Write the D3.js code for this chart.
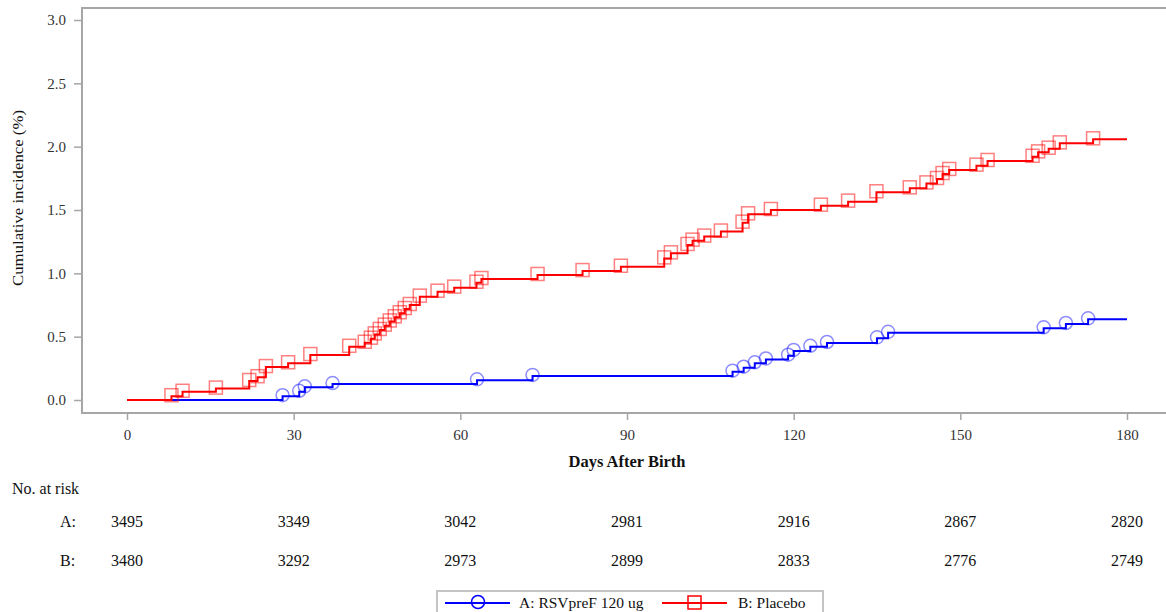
<!DOCTYPE html>
<html>
<head>
<meta charset="utf-8">
<script src="https://cdn.jsdelivr.net/npm/d3@7"></script>
<style>
  body { margin: 0; background: #fff; }
  svg { display: block; }
</style>
</head>
<body>
<svg width="1166" height="612"></svg>
<script>
(function (d3) {
  'use strict';

  // event days and cumulative incidence (%) after each event
  var groupATimes = [28, 31, 32, 37, 63, 73, 109, 111, 113, 115, 119, 120, 123, 126, 135, 137, 165, 169, 173];
  var groupAValues = [0.03, 0.065, 0.10, 0.126, 0.155, 0.19, 0.224, 0.255, 0.29, 0.32, 0.35, 0.387, 0.42, 0.45, 0.487, 0.53, 0.566, 0.60, 0.637];

  var groupBTimes = [8, 10, 16, 22, 23.5, 25, 29, 33, 40, 42.8, 43.9, 44.6, 45.5, 46.4, 47.3, 48.2, 49.1, 50, 50.9, 52.7, 55.9, 58.9, 62.9, 63.8, 73.9,
    82, 88.9, 96.7, 97.9, 100.9, 101.8, 103.9, 106.9, 110.8, 111.8, 115.9, 124.9, 129.8, 134.9, 140.9, 143.9, 145.8, 146.8, 148,
    152.9, 154.9, 163, 164, 165.9, 167.9, 173.9];
  var groupBValues = [0.03, 0.065, 0.09, 0.15, 0.18, 0.26, 0.29, 0.355, 0.42, 0.452, 0.484, 0.518, 0.553, 0.587, 0.62, 0.653, 0.685, 0.718, 0.75, 0.816, 0.855, 0.887, 0.926, 0.955, 0.987,
    1.018, 1.052, 1.118, 1.158, 1.224, 1.258, 1.29, 1.33, 1.40, 1.466, 1.50, 1.534, 1.566, 1.64, 1.671, 1.71, 1.745, 1.784, 1.816,
    1.85, 1.887, 1.92, 1.955, 1.984, 2.026, 2.058];

  var endDay = 180;
  var xTicks = [0, 30, 60, 90, 120, 150, 180];
  var yTicks = [0, 0.5, 1, 1.5, 2, 2.5, 3];
  var riskA = [3495, 3349, 3042, 2981, 2916, 2867, 2820];
  var riskB = [3480, 3292, 2973, 2899, 2833, 2776, 2749];
  var legendA = "A: RSVpreF 120 ug";
  var legendB = "B: Placebo";

  var serif = "'Liberation Serif', 'Times New Roman', Times, serif";
  var svg = d3.select("svg").attr("font-family", serif);
  var frameLeft = 82, frameTop = 8, frameBottom = 413, frameRight = 1166;
  var axisGrey = "#a6a6a6";

  var xScale = d3.scaleLinear().domain([0, 180]).range([127, 1127]);
  var yScale = d3.scaleLinear().domain([0, 3]).range([400, 20]);

  // frame (left, top, bottom)
  svg.append("path")
    .attr("d", "M" + frameRight + "," + frameTop + "H" + frameLeft + "V" + frameBottom + "H" + frameRight)
    .attr("fill", "none")
    .attr("stroke", axisGrey)
    .attr("stroke-width", 2);

  var yAxis = d3.axisLeft(yScale)
    .tickValues(yTicks)
    .tickFormat(d3.format(".1f"))
    .tickSize(8)
    .tickPadding(8);

  var yg = svg.append("g")
    .attr("transform", "translate(" + frameLeft + ",0)")
    .call(yAxis)
    .attr("font-family", serif)
    .attr("font-size", 15);
  yg.select(".domain").remove();
  yg.selectAll(".tick line").attr("stroke", axisGrey).attr("stroke-width", 1.5);
  yg.selectAll(".tick text").attr("fill", "#333");

  var xAxis = d3.axisBottom(xScale)
    .tickValues(xTicks)
    .tickSize(7)
    .tickPadding(9);

  var xg = svg.append("g")
    .attr("transform", "translate(0," + frameBottom + ")")
    .call(xAxis)
    .attr("font-family", serif)
    .attr("font-size", 15);
  xg.select(".domain").remove();
  xg.selectAll(".tick line").attr("stroke", axisGrey).attr("stroke-width", 1.5);
  xg.selectAll(".tick text").attr("fill", "#333");

  // axis titles
  svg.append("text")
    .attr("transform", "translate(23,198) rotate(-90)")
    .attr("text-anchor", "middle")
    .attr("font-size", 14)
    .attr("textLength", 176)
    .attr("lengthAdjust", "spacingAndGlyphs")
    .attr("fill", "#111")
    .text("Cumulative incidence (%)");

  svg.append("text")
    .attr("x", 627)
    .attr("y", 467)
    .attr("text-anchor", "middle")
    .attr("font-size", 16.5)
    .attr("font-weight", "bold")
    .attr("fill", "#111")
    .text("Days After Birth");

  // curves
  var line = d3.line()
    .x(function (d) { return xScale(d.t); })
    .y(function (d) { return yScale(d.v); })
    .curve(d3.curveStepAfter);

  function toPoints(times, values) {
    var pts = [{ t: 0, v: 0 }];
    times.forEach(function (t, i) { pts.push({ t: t, v: values[i] }); });
    pts.push({ t: endDay, v: values[values.length - 1] });
    return pts;
  }

  var seriesA = toPoints(groupATimes, groupAValues);
  var seriesB = toPoints(groupBTimes, groupBValues);

  svg.append("path")
    .datum(seriesA)
    .attr("d", line)
    .attr("fill", "none")
    .attr("stroke", "#0000ff")
    .attr("stroke-width", 2);

  svg.append("path")
    .datum(seriesB)
    .attr("d", line)
    .attr("fill", "none")
    .attr("stroke", "#ff0000")
    .attr("stroke-width", 2);

  svg.selectAll("circle.markA")
    .data(groupATimes)
    .enter()
    .append("circle")
    .attr("class", "markA")
    .attr("cx", function (d) { return xScale(d); })
    .attr("cy", function (d, i) { return yScale(groupAValues[i]) - 1; })
    .attr("r", 6.5)
    .attr("fill", "none")
    .attr("stroke", "#0000ff")
    .attr("stroke-opacity", 0.45)
    .attr("stroke-width", 1.5);

  svg.selectAll("rect.markB")
    .data(groupBTimes)
    .enter()
    .append("rect")
    .attr("class", "markB")
    .attr("x", function (d) { return xScale(d) - 6.5; })
    .attr("y", function (d, i) { return yScale(groupBValues[i]) - 7.5; })
    .attr("width", 13)
    .attr("height", 13)
    .attr("fill", "none")
    .attr("stroke", "#ff0000")
    .attr("stroke-opacity", 0.5)
    .attr("stroke-width", 1.5);

  // number at risk table
  svg.append("text")
    .attr("x", 12)
    .attr("y", 494)
    .attr("font-size", 16)
    .attr("fill", "#111")
    .text("No. at risk");

  var rows = [{ label: "A:", counts: riskA, y: 527 }, { label: "B:", counts: riskB, y: 566 }];
  rows.forEach(function (row) {
    svg.append("text")
      .attr("x", 60)
      .attr("y", row.y)
      .attr("font-size", 16)
      .attr("fill", "#111")
      .text(row.label);
    svg.selectAll(null)
      .data(row.counts)
      .enter()
      .append("text")
      .attr("x", function (d, i) { return xScale(xTicks[i]); })
      .attr("y", row.y)
      .attr("text-anchor", "middle")
      .attr("font-size", 16)
      .attr("fill", "#111")
      .text(function (d) { return d; });
  });

  // legend
  var lg = svg.append("g");
  lg.append("rect")
    .attr("x", 437)
    .attr("y", 591)
    .attr("width", 386)
    .attr("height", 26)
    .attr("fill", "#fff")
    .attr("stroke", "#c4c4c4")
    .attr("stroke-width", 2);

  lg.append("line")
    .attr("x1", 445).attr("x2", 510).attr("y1", 603).attr("y2", 603)
    .attr("stroke", "#0000ff").attr("stroke-width", 2);
  lg.append("circle")
    .attr("cx", 478).attr("cy", 602).attr("r", 6.5)
    .attr("fill", "none").attr("stroke", "#0000ff").attr("stroke-width", 1.5);
  lg.append("text")
    .attr("x", 519).attr("y", 608)
    .attr("font-size", 15.5).attr("fill", "#111")
    .text(legendA);

  lg.append("line")
    .attr("x1", 662).attr("x2", 727).attr("y1", 603).attr("y2", 603)
    .attr("stroke", "#ff0000").attr("stroke-width", 2);
  lg.append("rect")
    .attr("x", 688).attr("y", 596).attr("width", 13).attr("height", 13)
    .attr("fill", "none").attr("stroke", "#ff0000").attr("stroke-width", 1.5);
  lg.append("text")
    .attr("x", 738).attr("y", 608)
    .attr("font-size", 15.5).attr("fill", "#111")
    .text(legendB);

}(d3));
</script>
</body>
</html>
